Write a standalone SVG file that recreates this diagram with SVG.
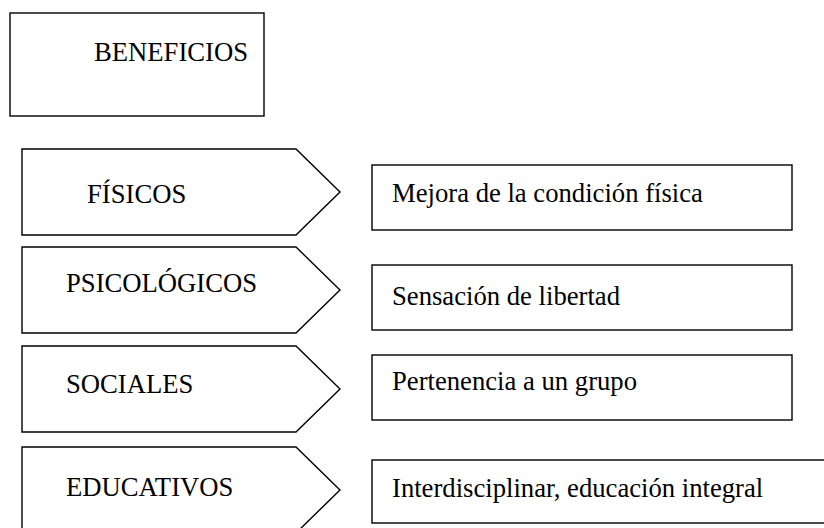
<svg xmlns="http://www.w3.org/2000/svg" width="824" height="528" viewBox="0 0 824 528">
<style>
.s{fill:#fff;stroke:#000;stroke-width:1.4}
.t{font-family:"Liberation Serif","Times New Roman",serif;font-size:26.67px;fill:#000}
</style>
<rect width="824" height="528" fill="#fff"/>
<g id="beneficios"><rect class="s" x="10" y="13" width="254" height="103"/><text class="t" x="94" y="61">BENEFICIOS</text></g>
<g id="fisicos"><polygon class="s" points="22,149 296,149 340,192 296,235 22,235"/><text class="t" x="87" y="203">FÍSICOS</text></g>
<g id="psicologicos"><polygon class="s" points="22,247 296,247 340,290 296,333 22,333"/><text class="t" x="66" y="292">PSICOLÓGICOS</text></g>
<g id="sociales"><polygon class="s" points="22,346 296,346 340,389 296,432 22,432"/><text class="t" x="66" y="393">SOCIALES</text></g>
<g id="educativos"><polygon class="s" points="22,447 296,447 340,490 296,533 22,533"/><text class="t" x="66" y="496">EDUCATIVOS</text></g>
<g id="mejora"><rect class="s" x="372" y="165" width="420" height="65"/><text class="t" x="392" y="202">Mejora de la condición física</text></g>
<g id="libertad"><rect class="s" x="372" y="265" width="420" height="65"/><text class="t" x="392" y="305">Sensación de libertad</text></g>
<g id="grupo"><rect class="s" x="372" y="355" width="420" height="65"/><text class="t" x="392" y="390">Pertenencia a un grupo</text></g>
<g id="integral"><rect class="s" x="372" y="460" width="460" height="63"/><text class="t" x="392" y="497">Interdisciplinar, educación integral</text></g>
<g id="connectors"></g>
</svg>
